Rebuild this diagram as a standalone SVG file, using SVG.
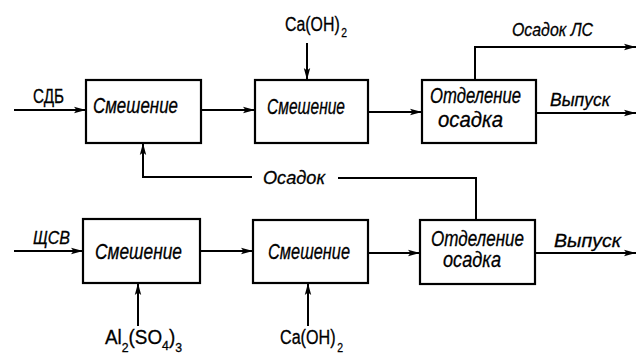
<svg xmlns="http://www.w3.org/2000/svg" width="636" height="356" viewBox="0 0 636 356">
<defs>
<marker id="ah" viewBox="0 0 12 8" refX="12" refY="4" markerWidth="12" markerHeight="8" markerUnits="userSpaceOnUse" orient="auto">
<path d="M0,0.8 L12,4 L0,7.2 L2.5,4 Z" fill="#000"/>
</marker>
<style>
.box{fill:#fff;stroke:#000;stroke-width:2.2}
.ln{fill:none;stroke:#000;stroke-width:2}
.t{font-family:"Liberation Sans",Arial,sans-serif;font-style:italic;font-size:22px;fill:#000;stroke:#000;stroke-width:0.3}
.l{font-family:"Liberation Sans",Arial,sans-serif;font-style:italic;font-size:18px;fill:#000;stroke:#000;stroke-width:0.3}
.f{font-family:"Liberation Sans",Arial,sans-serif;font-size:20px;fill:#000;stroke:#000;stroke-width:0.3}
.s{font-size:13px}
</style>
</defs>
<g id="connectors">
<line class="ln" x1="14" y1="110" x2="86" y2="110" marker-end="url(#ah)"/>
<line class="ln" x1="201" y1="110" x2="255" y2="110" marker-end="url(#ah)"/>
<line class="ln" x1="307" y1="43" x2="307" y2="80" marker-end="url(#ah)"/>
<line class="ln" x1="368" y1="112" x2="422" y2="112" marker-end="url(#ah)"/>
<polyline class="ln" points="475,80 475,47 636,47" marker-end="url(#ah)"/>
<line class="ln" x1="536" y1="113" x2="636" y2="113" marker-end="url(#ah)"/>
<polyline class="ln" points="252,177 143,177 143,143" marker-end="url(#ah)"/>
<polyline class="ln" points="338,178 476,178 476,220"/>
<line class="ln" x1="14" y1="251" x2="83" y2="251" marker-end="url(#ah)"/>
<line class="ln" x1="138" y1="326" x2="138" y2="283" marker-end="url(#ah)"/>
<line class="ln" x1="200" y1="251" x2="253" y2="251" marker-end="url(#ah)"/>
<line class="ln" x1="308" y1="326" x2="308" y2="283" marker-end="url(#ah)"/>
<line class="ln" x1="368" y1="253" x2="420" y2="253" marker-end="url(#ah)"/>
<line class="ln" x1="535" y1="253" x2="636" y2="253" marker-end="url(#ah)"/>
</g>
<g id="labels">
<text class="f" x="33" y="103" textLength="31" lengthAdjust="spacingAndGlyphs">СДБ</text>
<text class="l" x="33" y="244" font-size="19" textLength="37" lengthAdjust="spacingAndGlyphs">ЩСВ</text>
<text class="f" x="285" y="31" textLength="62" lengthAdjust="spacingAndGlyphs">Ca(OH)<tspan class="s" dx="2" dy="6">2</tspan></text>
<text class="l" x="512" y="36" textLength="81" lengthAdjust="spacingAndGlyphs">Осадок ЛС</text>
<text class="l" x="550" y="106" textLength="60" lengthAdjust="spacingAndGlyphs">Выпуск</text>
<text class="l" x="263" y="184" textLength="62" lengthAdjust="spacingAndGlyphs">Осадок</text>
<text class="l" x="554" y="247" textLength="67" lengthAdjust="spacingAndGlyphs">Выпуск</text>
<text class="f" x="105" y="344" textLength="77" lengthAdjust="spacingAndGlyphs">Al<tspan class="s" dy="8">2</tspan><tspan dy="-8">(SO</tspan><tspan class="s" dy="6">4</tspan><tspan dy="-6">)</tspan><tspan class="s" dy="8">3</tspan></text>
<text class="f" x="280" y="344" textLength="63" lengthAdjust="spacingAndGlyphs">Ca(OH)<tspan class="s" dx="2" dy="8">2</tspan></text>
</g>
<g id="mix1">
<rect class="box" x="86" y="80" width="115" height="63"/>
<text class="t" x="93" y="113" textLength="85" lengthAdjust="spacingAndGlyphs">Смешение</text>
</g>
<g id="mix2">
<rect class="box" x="255" y="80" width="113" height="63"/>
<text class="t" x="267" y="114" textLength="78" lengthAdjust="spacingAndGlyphs">Смешение</text>
</g>
<g id="sep1">
<rect class="box" x="422" y="80" width="114" height="63"/>
<text class="t" x="430" y="103" textLength="91" lengthAdjust="spacingAndGlyphs">Отделение</text>
<text class="t" x="438" y="127" textLength="65" lengthAdjust="spacingAndGlyphs">осадка</text>
</g>
<g id="mix3">
<rect class="box" x="83" y="219" width="117" height="64"/>
<text class="t" x="95" y="259" textLength="87" lengthAdjust="spacingAndGlyphs">Смешение</text>
</g>
<g id="mix4">
<rect class="box" x="253" y="220" width="115" height="63"/>
<text class="t" x="268" y="259" textLength="82" lengthAdjust="spacingAndGlyphs">Смешение</text>
</g>
<g id="sep2">
<rect class="box" x="420" y="220" width="115" height="64"/>
<text class="t" x="431" y="246" font-size="19" textLength="93" lengthAdjust="spacingAndGlyphs">Отделение</text>
<text class="t" x="443" y="267" font-size="19" textLength="58" lengthAdjust="spacingAndGlyphs">осадка</text>
</g>
</svg>
